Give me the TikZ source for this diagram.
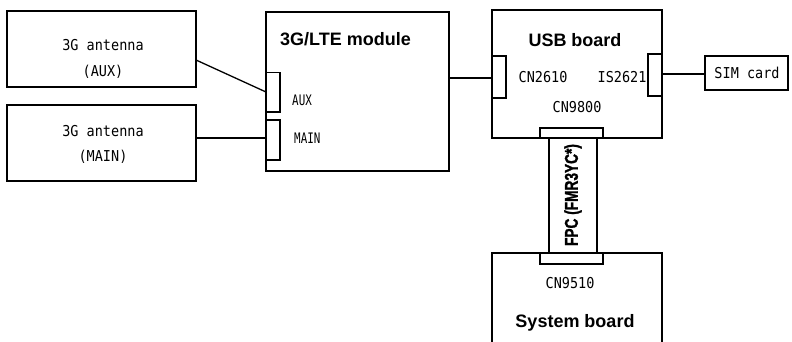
\documentclass[tikz,border=0pt]{standalone}
\usepackage{fontspec}
\setmainfont{Liberation Sans}
\newfontfamily\monof{DejaVu Sans Mono}[FakeStretch=0.9]
\newfontfamily\narrowmono{DejaVu Sans Mono}[FakeStretch=0.75]
\newfontfamily\heavyf{Liberation Sans Bold}[FakeBold=1.6]
\begin{document}
\begin{tikzpicture}[x=1pt,y=-1pt,
  box/.style={draw,line width=1.3pt,inner sep=0pt},
  conn/.style={draw,line width=1.3pt,fill=white},
  wire/.style={line width=1.3pt},
  lbl/.style={font=\monof\fontsize{15}{17}\selectfont,inner sep=0pt},
  smalllbl/.style={font=\narrowmono\fontsize{14.5}{16}\selectfont,inner sep=0pt},
  title/.style={font=\bfseries\fontsize{18}{20}\selectfont,inner sep=0pt}]
\useasboundingbox (0,0) rectangle (792,342);
\begin{scope}
\clip (0,0) rectangle (792,342);
% antenna boxes
\draw[box] (7,11) rectangle (196,87);
\node[coordinate] (antaux) at (196,60) {};
\draw[box] (7,105) rectangle (196,181);
\node[coordinate] (antmain) at (196,138) {};
\node[lbl] (t1) at (103,45) {3G antenna};
\node[lbl] (t2) at (103,72) {(AUX)};
\node[lbl] (t3) at (103,131) {3G antenna};
\node[lbl] (t4) at (103,157) {(MAIN)};

% module
\draw[box] (266,12) rectangle (449,171);
\node[title,anchor=west] (mt) at (280,39) {3G/LTE module};
\draw[conn] (266,72.5) rectangle (280,112);
\draw[conn] (266,120) rectangle (280,160);
\node[coordinate] (auxin) at (266,92) {};
\node[coordinate] (mainin) at (266,138) {};
\node[coordinate] (modout) at (449,78) {};
\node[smalllbl,anchor=west] (auxl) at (292,100) {AUX};
\node[smalllbl,anchor=west] (mainl) at (294,138) {MAIN};

% USB board
\draw[box] (492,10) rectangle (662,138);
\node[title] (ut) at (575,40) {USB board};
\draw[conn] (492,56) rectangle (506,98);
\draw[conn] (648,54) rectangle (662,96);
\node[coordinate] (cn2610) at (492,78) {};
\node[coordinate] (is2621) at (662,74) {};
\node[lbl] (l1) at (543,77) {CN2610};
\node[lbl] (l2) at (622,77) {IS2621};
\node[lbl] (l3) at (577,107) {CN9800};

% SIM card
\draw[box] (705,56) rectangle (788,90);
\node[coordinate] (sim) at (705,74) {};
\node[lbl] (simt) at (747,73) {SIM card};

% FPC
\draw[box] (549,138) rectangle (597,253);
\node[rotate=90,inner sep=0pt] (fpc) at (573,195) {\scalebox{0.74}[1]{\heavyf\fontsize{18.5}{20}\selectfont FPC (FMR3YC*)}};
\draw[conn] (540,128) rectangle (603,138);

% System board
\draw[line width=1.3pt] (492,350) -- (492,253) -- (662,253) -- (662,350);
\draw[conn] (540,253) rectangle (603,264);
\node[lbl] (l4) at (570,283) {CN9510};
\node[title] (st) at (575,323) {System board};

% wires
\draw[wire] (antaux) -- (auxin);
\draw[wire] (antmain) -- (mainin);
\draw[wire] (modout) -- (cn2610 |- modout);
\draw[wire] (is2621) -- (sim);
\end{scope}
\end{tikzpicture}
\end{document}
